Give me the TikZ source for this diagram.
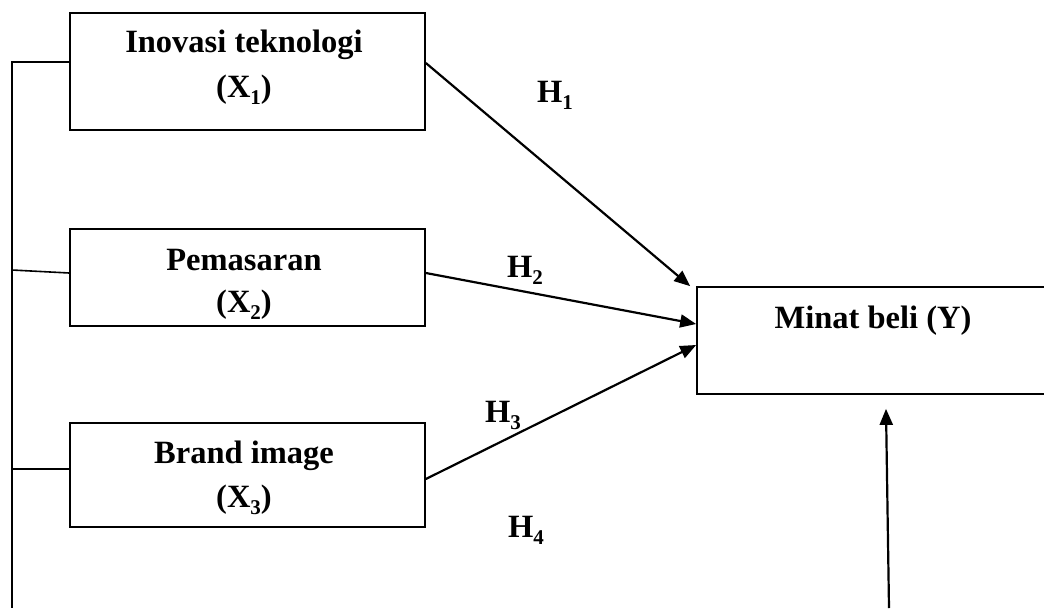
\documentclass[tikz,border=0pt]{standalone}
\usepackage{fontspec}
\setmainfont{Liberation Serif}
\usetikzlibrary{arrows.meta}
\newcommand\mysub[1]{\raisebox{-0.22em}{\fontsize{21}{21}\selectfont #1}}
\tikzset{
  box/.style={draw, line width=1.7pt, inner sep=0pt, anchor=center},
  lbl/.style={font=\fontsize{32.5}{45}\selectfont\bfseries, inner sep=0pt, anchor=base},
  conn/.style={line width=1.6pt},
  arr/.style={line width=2.2pt, -{Triangle[length=16pt,width=13pt]}}
}
\begin{document}
\begin{tikzpicture}[x=1pt,y=-1pt]
\useasboundingbox (0,0) rectangle (1044,608);
\clip (0,0) rectangle (1044,608);
% boxes
\node[box, minimum width=355pt, minimum height=117pt] (b1) at (247.5,71.5) {};
\node[box, minimum width=355pt, minimum height=97pt] (b2) at (247.5,277.5) {};
\node[box, minimum width=355pt, minimum height=104pt] (b3) at (247.5,475) {};
\node[box, minimum width=363pt, minimum height=107pt] (by) at (878.5,340.5) {};
% box texts
\node[lbl] (t1a) at (244,52) {Inovasi teknologi};
\node[lbl] (t1b) at (244,97) {(X\mysub{1})};
\node[lbl] (t2a) at (244,270) {Pemasaran};
\node[lbl] (t2b) at (244,312) {(X\mysub{2})};
\node[lbl] (t3a) at (244,463) {Brand image};
\node[lbl] (t3b) at (244,507) {(X\mysub{3})};
\node[lbl] (ty) at (873,328) {Minat beli (Y)};
% hypothesis labels
\node[lbl] (h1) at (555,102) {H\mysub{1}};
\node[lbl] (h2) at (525,277) {H\mysub{2}};
\node[lbl] (h3) at (503,422) {H\mysub{3}};
\node[lbl] (h4) at (526,537) {H\mysub{4}};
% left connector
\coordinate (ltop) at (12,62);
\coordinate (l2) at (12,270);
\coordinate (l3) at (12,469);
\coordinate (lbot) at (12,608);
\draw[conn] ([yshift=9.5pt]b1.west) -- (ltop) -- (lbot);
\draw[conn] ([yshift=4.5pt]b2.west) -- (l2);
\draw[conn] ([yshift=6pt]b3.west) -- (l3);
% arrows
\draw[arr] ([yshift=8.5pt]b1.east) -- ([xshift=-6pt]by.north west);
\draw[arr] ([yshift=4.5pt]b2.east) -- ([yshift=16.5pt]by.west);
\draw[arr] ([yshift=-4pt]b3.east) -- ([yshift=-4.5pt]by.west);
\coordinate (bstart) at (889,608);
\draw[arr] (bstart) -- ([xshift=7.5pt,yshift=-14pt]by.south);
\end{tikzpicture}
\end{document}
